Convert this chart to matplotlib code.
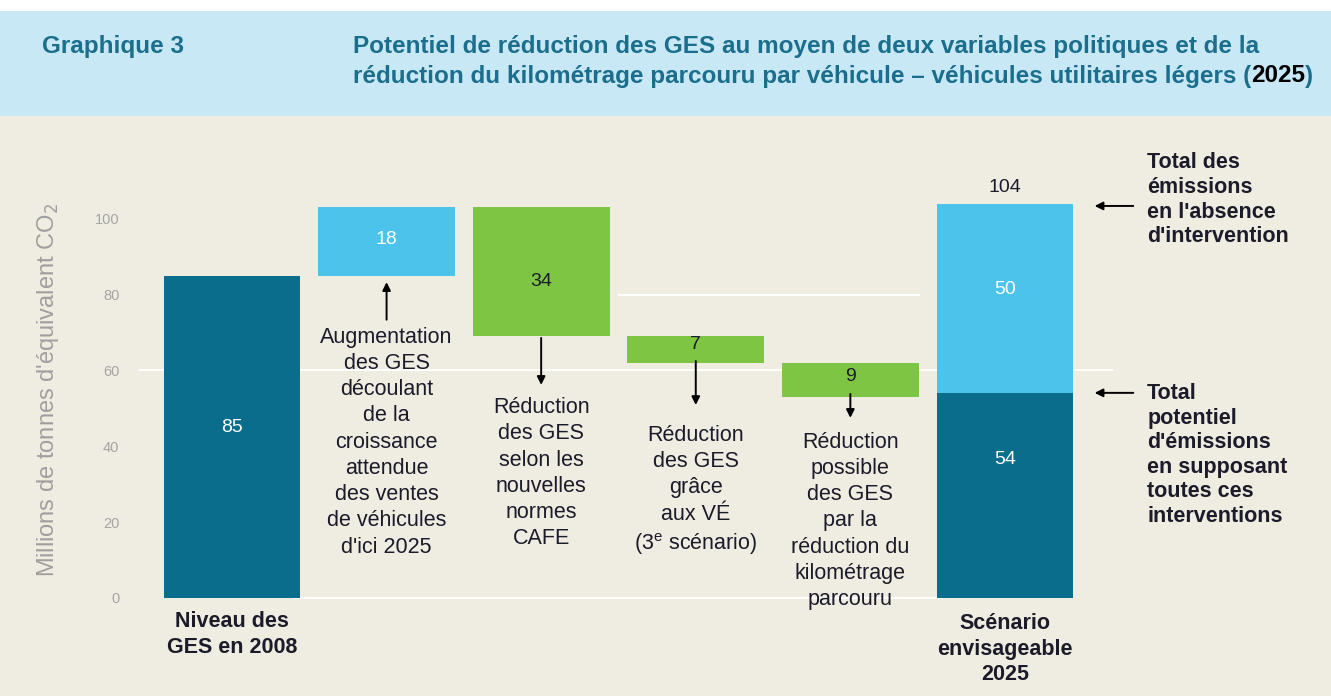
import numpy as np
import matplotlib
matplotlib.use("Agg")
import matplotlib.pyplot as plt
from matplotlib.patches import Rectangle

plt.rcParams['font.family'] = ['Liberation Sans', 'DejaVu Sans']

# data (millions de tonnes d'équivalent CO2)
start_2008 = 85
steps = [18, -34, -7, -9]
final_low = 54
final_high = 50
total_none = 104
yticks = [0, 20, 40, 60, 80, 100]

step_notes = [
    "Augmentation\ndes GES\ndécoulant\nde la\ncroissance\nattendue\ndes ventes\nde véhicules\nd'ici 2025",
    "Réduction\ndes GES\nselon les\nnouvelles\nnormes\nCAFE",
    "Réduction\ndes GES\ngrâce\naux VÉ\n(3$^{\\mathregular{e}}$ scénario)",
    "Réduction\npossible\ndes GES\npar la\nréduction du\nkilométrage\nparcouru",
]

dark = '#0a6d8b'
light = '#4bc3ea'
green = '#7ec543'
teal_txt = '#1b6e8c'
bg = '#efece1'
ink = '#1b1b2a'
tsize = 17.5

fig = plt.figure(figsize=(13.31, 6.96), dpi=100)
fig.patch.set_facecolor(bg)
# header band
fig.add_artist(Rectangle((0, 1 - 11 / 696), 1, 11 / 696, transform=fig.transFigure,
                         facecolor='white', edgecolor='none'))
fig.add_artist(Rectangle((0, 1 - 116 / 696), 1, 105 / 696, transform=fig.transFigure,
                         facecolor='#c7e8f4', edgecolor='none'))
fig.text(42 / 1331, 1 - 46 / 696, "Graphique 3", color=teal_txt, fontsize=tsize,
         fontweight='bold', va='center')
fig.text(353 / 1331, 1 - 46 / 696,
         "Potentiel de réduction des GES au moyen de deux variables politiques et de la",
         color=teal_txt, fontsize=tsize, fontweight='bold', va='center')
t = fig.text(353 / 1331, 1 - 76 / 696,
             "réduction du kilométrage parcouru par véhicule – véhicules utilitaires légers (",
             color=teal_txt, fontsize=tsize, fontweight='bold', va='center')
fig.canvas.draw()
bb = t.get_window_extent()
t2 = fig.text(bb.x1 / 1331, 1 - 76 / 696, "2025", color='black', fontsize=tsize,
              fontweight='bold', va='center')
bb2 = t2.get_window_extent()
fig.text(bb2.x1 / 1331, 1 - 76 / 696, ")", color=teal_txt, fontsize=tsize,
         fontweight='bold', va='center')

ax = fig.add_axes([125 / 1331, 0, 1 - 125 / 1331, (696 - 118) / 696])
ax.set_facecolor(bg)
ax.patch.set_alpha(0)
ax.set_xlim(-0.692, 7.109)
ax.set_ylim(-25.86, 126.6)
for s in ax.spines.values():
    s.set_visible(False)
ax.set_xticks([])
ax.set_yticks(yticks)
ax.tick_params(axis='y', length=0, pad=4, labelsize=10.5, labelcolor='#a5a5a5')
ax.set_ylabel("Millions de tonnes d'équivalent CO$_2$", color='#9f9f9f', fontsize=17)
ax.yaxis.set_label_coords(-0.053, 0.529)

# faint gridlines
ax.hlines([60], -0.6, 5.7, color='white', lw=1.5, zorder=0)
ax.hlines([80], 2.5, 4.45, color='white', lw=1.5, zorder=0)
ax.hlines([0], 0.4, 4.6, color='white', lw=1.5, zorder=0)

w = 0.885
# waterfall
levels = np.concatenate([[start_2008], start_2008 + np.cumsum(steps)])
ax.bar(0, start_2008, width=w, color=dark, zorder=2)
step_colors = [light if s > 0 else green for s in steps]
for i, s in enumerate(steps):
    lo = min(levels[i], levels[i + 1])
    ax.bar(i + 1, abs(s), bottom=lo, width=w, color=step_colors[i], zorder=2)
ax.bar(5, final_low, width=w, color=dark, zorder=2)
ax.bar(5, final_high, bottom=final_low, width=w, color=light, zorder=2)

# value labels
num_y = [45, 94.5, 83.4, 66.8, 58.3]
num_c = ['white', 'white', ink, ink, ink]
vals = [start_2008] + [abs(s) for s in steps]
for i, (v, y, c) in enumerate(zip(vals, num_y, num_c)):
    ax.text(i, y, str(v), ha='center', va='center', color=c, fontsize=14)
ax.text(5, 108.2, str(total_none), ha='center', va='center', color=ink, fontsize=14)
ax.text(5, 81.3, str(final_high), ha='center', va='center', color='white', fontsize=14)
ax.text(5, 36.4, str(final_low), ha='center', va='center', color='white', fontsize=14)

# step annotations
arrow_tail = [73.4, 68.6, 62.5, 53.8]
arrow_tip = [83.3, 56.2, 50.9, 47.5]
note_top = [71.6, 53.0, 45.7, 43.9]
ap = dict(arrowstyle='-|>', color='black', lw=1.4, mutation_scale=12, shrinkA=0, shrinkB=0)
for i in range(4):
    ax.annotate('', xy=(i + 1, arrow_tip[i]), xytext=(i + 1, arrow_tail[i]),
                arrowprops=ap, zorder=3)
    ax.text(i + 1, note_top[i], step_notes[i], ha='center', va='top', color=ink,
            fontsize=15.5, linespacing=1.33)

# bottom labels
ax.text(0, -3.5, "Niveau des\nGES en 2008", ha='center', va='top', color=ink,
        fontsize=15.5, fontweight='bold', linespacing=1.3)
ax.text(5, -3.9, "Scénario\nenvisageable\n2025", ha='center', va='top', color=ink,
        fontsize=15.5, fontweight='bold', linespacing=1.3)

# right annotations
ax.annotate('', xy=(5.58, 103.4), xytext=(5.83, 103.4), arrowprops=ap)
ax.annotate('', xy=(5.58, 54.1), xytext=(5.83, 54.1), arrowprops=ap)
ax.text(5.92, 117.5, "Total des\némissions\nen l'absence\nd'intervention", ha='left',
        va='top', color=ink, fontsize=15.5, fontweight='bold', linespacing=1.22)
ax.text(5.92, 56.6, "Total\npotentiel\nd'émissions\nen supposant\ntoutes ces\ninterventions",
        ha='left', va='top', color=ink, fontsize=15.5, fontweight='bold', linespacing=1.22)

fig.savefig('out.png', dpi=100, facecolor=fig.get_facecolor())
